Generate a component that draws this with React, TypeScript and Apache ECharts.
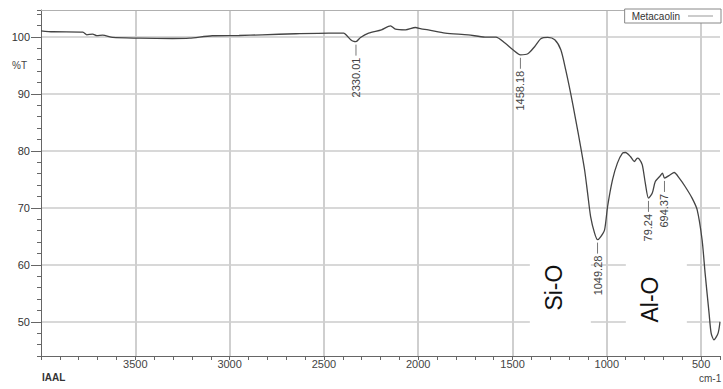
import React, { useEffect, useRef } from 'react';
import * as echarts from 'echarts';

const wavenumbers = [
  4000, 3937, 3778, 3757, 3726, 3704, 3673, 3620, 3477, 3303, 3213, 3092, 2950, 2828, 2649,
  2474, 2395, 2379, 2358, 2342, 2330, 2306, 2263, 2195, 2147, 2121, 2068, 2015, 1984, 1947,
  1857, 1735, 1646, 1588, 1540, 1498, 1458, 1419, 1382, 1350, 1313, 1276, 1244, 1218, 1192,
  1165, 1139, 1118, 1102, 1086, 1065, 1049, 1033, 1012, 996, 970, 944, 917, 901, 875, 854,
  838, 828, 812, 796, 779, 759, 743, 717, 705, 694, 664, 643, 616, 585, 548, 521, 495, 479,
  458, 447, 432, 410, 400,
];
const transmittance = [
  101.05, 100.88, 100.82, 100.35, 100.47, 100.2, 100.3, 99.88, 99.77, 99.7, 99.77, 100.18, 100.23, 100.35, 100.53,
  100.65, 100.65, 100.23, 99.47, 99.18, 99.15, 99.88, 100.65, 101.23, 101.93, 101.35, 101.23, 101.63, 101.4, 101.23,
  100.65, 100.35, 99.95, 99.95, 98.9, 97.72, 96.84, 97.02, 98.3, 99.65, 99.88, 99.47, 97.72, 94.2, 90.12,
  85.44, 80.75, 76.67, 72.58, 68.47, 65.56, 64.4, 64.9, 66.14, 70.23, 74.91, 77.84, 79.6, 79.7, 79.0, 78.12,
  78.72, 78.54, 77.54, 74.33, 71.7, 72.58, 74.61, 75.61, 76.09, 75.21, 75.79, 76.19, 75.21, 73.74, 71.7, 69.65, 64.39, 58.54,
  51.53, 48.02, 46.84, 48.02, 50.0,
];

const xTickLabels = [3500, 3000, 2500, 2000, 1500, 1000, 500];
const yTickLabels = [50, 60, 70, 80, 90, 100];
const peakWavenumbers = [2330.01, 1458.18, 1049.28, 779.24, 694.37];
const peakLabels = ['2330.01', '1458.18', '1049.28', '79.24', '694.37'];
const bandNames = ['Si-O', 'Al-O'];
const bandWavenumbers = [1281, 772];
const bandTransmittance = [56.0, 53.9];
const seriesName = 'Metacaolin';
const yUnitLabel = '%T';
const yUnitAt = 95;
const xUnitLabel = 'cm-1';
const sourceLabel = 'IAAL';

const FONT = '"Liberation Sans", Arial, Helvetica, sans-serif';
const GRID_COLOR = '#cfcfcf';

function interpT(wn: number): number {
  for (let i = 0; i < wavenumbers.length - 1; i++) {
    const a = wavenumbers[i];
    const b = wavenumbers[i + 1];
    if (wn <= a && wn >= b) {
      const t = (a - wn) / (a - b);
      return transmittance[i] + t * (transmittance[i + 1] - transmittance[i]);
    }
  }
  return transmittance[transmittance.length - 1];
}

export default function App() {
  const ref = useRef<HTMLDivElement>(null);

  useEffect(() => {
    if (!ref.current) return;
    const chart = echarts.init(ref.current, null, { renderer: 'svg' });
    const data = wavenumbers.map((w, i) => [w, transmittance[i]]);

    chart.setOption({
      animation: false,
      grid: { left: 41, right: 0, top: 10, bottom: 33 },
      legend: {
        data: [seriesName],
        right: 2,
        top: 9,
        align: 'right',
        icon: 'rect',
        itemWidth: 25,
        itemHeight: 1,
        itemStyle: { color: '#999' },
        padding: [2, 8, 2, 7],
        backgroundColor: '#fff',
        borderColor: '#888',
        borderWidth: 1,
        borderRadius: 0,
        textStyle: { fontSize: 10, color: '#333', fontFamily: FONT, padding: [0, 3, 0, 0] },
      },
      xAxis: [
        {
          type: 'value',
          inverse: true,
          min: 400,
          max: 4000,
          interval: 100,
          axisLine: { show: true, onZero: false, lineStyle: { color: '#666', width: 1 } },
          axisTick: { show: true, length: 4, lineStyle: { color: '#666' } },
          axisLabel: {
            margin: 2,
            fontSize: 11,
            color: '#444',
            fontFamily: FONT,
            formatter: (v: number) => (xTickLabels.includes(Math.round(v)) ? String(Math.round(v)) : ''),
          },
          splitLine: { show: false },
        },
        {
          type: 'value',
          inverse: true,
          min: 400,
          max: 4000,
          splitNumber: 7,
          position: 'top',
          axisLine: { show: true, onZero: false, lineStyle: { color: '#b0b0b0', width: 1 } },
          axisTick: { show: false, customValues: xTickLabels },
          axisLabel: { show: false },
          splitLine: { show: true, lineStyle: { color: GRID_COLOR, width: 2 } },
        },
      ],
      yAxis: [
        {
          type: 'value',
          min: 44,
          max: 104.7,
          interval: 2,
          axisLine: { show: true, onZero: false, lineStyle: { color: '#666', width: 1 } },
          axisTick: { show: true, length: 4, lineStyle: { color: '#666' } },
          axisLabel: {
            margin: 11,
            fontSize: 11,
            color: '#333',
            fontFamily: FONT,
            formatter: (v: number) =>
              Math.abs(v - Math.round(v)) < 1e-6 && yTickLabels.includes(Math.round(v)) ? String(Math.round(v)) : '',
          },
          splitLine: { show: false },
        },
        {
          type: 'value',
          min: 44,
          max: 104.7,
          splitNumber: 6,
          position: 'left',
          axisLine: { show: false, onZero: false },
          axisTick: { show: true, length: 10, customValues: yTickLabels, lineStyle: { color: '#666' } },
          axisLabel: { show: false },
          splitLine: { show: true, lineStyle: { color: '#d8d8d8', width: 2 } },
        },
      ],
      series: [
        {
          type: 'line',
          name: seriesName,
          data,
          z: 3,
          symbol: 'none',
          showSymbol: false,
          smooth: 0.25,
          color: '#444',
          lineStyle: { color: '#444', width: 1.3 },
        },
      ],
    });

    const toPx = (x: number, y: number) => chart.convertToPixel({ seriesIndex: 0 }, [x, y]) as number[];
    const graphics: any[] = [];

    peakWavenumbers.forEach((wn, i) => {
      const t = interpT(wn);
      const [px, py] = toPx(wn, t);
      graphics.push({
        type: 'line',
        z: 20,
        shape: { x1: px, y1: py + 3, x2: px, y2: py + 14 },
        style: { stroke: '#777', lineWidth: 1 },
      });
      graphics.push({
        type: 'text',
        z: 21,
        x: px,
        y: py + 16,
        rotation: Math.PI / 2,
        style: {
          text: peakLabels[i],
          fill: '#444',
          fontSize: 11,
          fontFamily: FONT,
          align: 'right',
          verticalAlign: 'middle',
          textAlign: 'right',
          textVerticalAlign: 'middle',
        },
      });
    });

    bandNames.forEach((name, i) => {
      const [cx, cy] = toPx(bandWavenumbers[i], bandTransmittance[i]);
      graphics.push({
        type: 'rect',
        z: 15,
        shape: { x: cx - 24, y: cy - 38, width: 61, height: 80 },
        style: { fill: '#fff' },
      });
      graphics.push({
        type: 'text',
        z: 16,
        x: cx,
        y: cy,
        rotation: Math.PI / 2,
        style: {
          text: name,
          fill: '#111',
          fontSize: 23,
          fontFamily: FONT,
          align: 'center',
          verticalAlign: 'middle',
          textAlign: 'center',
          textVerticalAlign: 'middle',
        },
      });
    });

    const [, unitY] = toPx(4000, yUnitAt);
    graphics.push({
      type: 'text',
      z: 20,
      x: 12,
      y: unitY,
      style: {
        text: yUnitLabel,
        fill: '#444',
        fontSize: 10,
        fontFamily: FONT,
        align: 'left',
        verticalAlign: 'middle',
        textAlign: 'left',
        textVerticalAlign: 'middle',
      },
    });
    graphics.push({
      type: 'text',
      z: 20,
      x: 42,
      y: 377,
      style: {
        text: sourceLabel,
        fill: '#333',
        fontSize: 10,
        fontWeight: 'bold',
        fontFamily: FONT,
        align: 'left',
        verticalAlign: 'middle',
        textAlign: 'left',
        textVerticalAlign: 'middle',
      },
    });
    graphics.push({
      type: 'text',
      z: 20,
      x: 699,
      y: 378,
      style: {
        text: xUnitLabel,
        fill: '#444',
        fontSize: 10,
        fontFamily: FONT,
        align: 'left',
        verticalAlign: 'middle',
        textAlign: 'left',
        textVerticalAlign: 'middle',
      },
    });

    chart.setOption({ graphic: graphics });

    return () => chart.dispose();
  }, []);

  return (
    <div
      ref={ref}
      style={{ position: 'fixed', left: 0, top: 0, width: 723, height: 389, background: '#fff' }}
    />
  );
}
